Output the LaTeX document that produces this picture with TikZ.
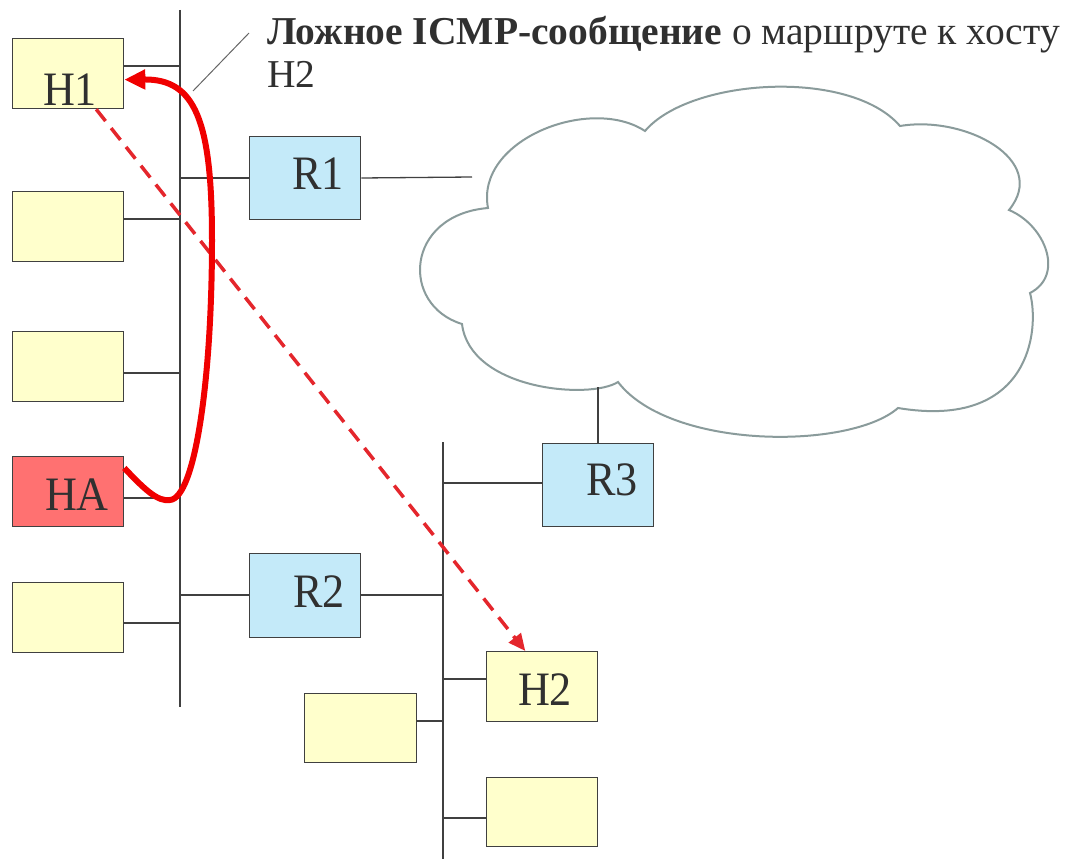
\documentclass[tikz,border=0pt]{standalone}
\usepackage{fontspec}
\usepackage{graphicx}
\setmainfont{Liberation Serif}
\usetikzlibrary{arrows.meta,calc}
\definecolor{boxyellow}{HTML}{FFFFCC}
\definecolor{routerblue}{HTML}{C4EAF9}
\definecolor{attackred}{HTML}{FF7171}
\definecolor{edge}{HTML}{404040}
\definecolor{txt}{HTML}{303030}
\definecolor{cloudline}{HTML}{8A9B9B}
\definecolor{arrowred}{HTML}{F00000}
\definecolor{dashred}{HTML}{E4262C}
\begin{document}
\begin{tikzpicture}[x=1pt,y=-1pt,
  box/.style={draw=edge, line width=1.3pt, inner sep=0pt, anchor=north west,
              minimum width=111pt, minimum height=70pt},
  host/.style={box, fill=boxyellow},
  router/.style={box, fill=routerblue, minimum height=83pt},
  attacker/.style={box, fill=attackred},
  wire/.style={draw=edge, line width=1.3pt},
  lbl/.style={anchor=base, text=txt, inner sep=0pt, font=\fontsize{48}{48}\selectfont},
  ttl/.style={anchor=base west, text=txt, inner sep=0pt, font=\fontsize{39.5}{43}\selectfont},
  attack/.style={draw=arrowred, line width=6pt, -{Triangle[length=21pt,width=19pt]}},
  fake/.style={draw=dashred, line width=3.5pt, dash pattern=on 15pt off 9pt,
               -{Triangle[length=17pt,width=15pt]}},
  pointer/.style={draw=edge!80, line width=1pt},
  cloudstyle/.style={draw=cloudline, line width=2pt, fill=white}
]
\useasboundingbox (0,0) rectangle (1069,859);

% buses
\coordinate (busAtop) at (180,10);
\coordinate (busAbot) at (180,707);
\coordinate (busBtop) at (443,442);
\coordinate (busBbot) at (443,859);
\draw[wire] (busAtop) -- (busAbot);
\draw[wire] (busBtop) -- (busBbot);

% cloud
\path[cloudstyle] (488,208)
  .. controls (475,140) and (590,95) .. (645,131)
  .. controls (690,78) and (850,68) .. (900,126)
  .. controls (965,115) and (1050,160) .. (1009,210)
  .. controls (1045,225) and (1065,275) .. (1030,293)
  .. controls (1040,330) and (1030,430) .. (898,408)
  .. controls (850,450) and (670,450) .. (618,382)
  .. controls (590,400) and (470,390) .. (462,324)
  .. controls (400,305) and (405,215) .. (488,208) -- cycle;
\coordinate (cloudW) at (472,177);
\coordinate (cloudS) at (598,387);

% boxes
\node[host] (H1) at (12,38) {};
\node[host] (L2) at (12,191) {};
\node[host] (L3) at (12,331) {};
\node[attacker] (HA) at (12,456) {};
\node[host] (L5) at (12,582) {};
\node[router] (R1) at (249,136) {};
\node[router, minimum height=84pt] (R2) at (249,553) {};
\node[router] (R3) at (542,443) {};
\node[host] (H2) at (486,651) {};
\node[host, minimum width=112pt, minimum height=69pt] (B1) at (304,693) {};
\node[host, minimum height=69pt] (B2) at (486,777) {};

% labels
\node[lbl] (tH1) at (70,106) {\scalebox{0.92}[1]{H1}};
\node[lbl] (tR1) at (318,189) {\scalebox{0.92}[1]{R1}};
\node[lbl] (tHA) at (77,510) {\scalebox{0.92}[1]{HA}};
\node[lbl] (tR2) at (319,607) {\scalebox{0.92}[1]{R2}};
\node[lbl] (tR3) at (612,495) {\scalebox{0.92}[1]{R3}};
\node[lbl] (tH2) at (545,705) {\scalebox{0.92}[1]{H2}};

% connectors to bus A
\draw[wire] (H1.east |- 0,66) -- (busAtop |- 0,66);
\draw[wire] (L2.east |- 0,219) -- (busAtop |- 0,219);
\draw[wire] (L3.east |- 0,373) -- (busAtop |- 0,373);
\draw[wire] (HA.east |- 0,498) -- (busAtop |- 0,498);
\draw[wire] (L5.east |- 0,623) -- (busAtop |- 0,623);
\draw[wire] (busAtop |- 0,178) -- (R1.west |- 0,178);
\draw[wire] (busAtop |- 0,595) -- (R2.west |- 0,595);
% R1 to cloud
\draw[wire] (R1.east |- 0,178) -- (cloudW);
% bus B
\draw[wire] (R2.east |- 0,595) -- (busBtop |- 0,595);
\draw[wire] (busBtop |- 0,483) -- (R3.west |- 0,483);
\draw[wire] (busBtop |- 0,679) -- (H2.west |- 0,679);
\draw[wire] (B1.east |- 0,721) -- (busBtop |- 0,721);
\draw[wire] (busBtop |- 0,818) -- (B2.west |- 0,818);
% R3 to cloud
\draw[wire] (R3.north -| cloudS) -- (cloudS);

% title
\node[ttl] (title) at (267,45) {\textbf{Ложное ICMP-сообщение} о маршруте к хосту};
\node[ttl] (title2) at (267,88) {H2};
\coordinate (ptrA) at (193,91);
\coordinate (ptrB) at (249,33);
\draw[pointer] (ptrA) -- (ptrB);

% fake route (dashed)
\draw[fake] ($(H1.south west)!0.75!(H1.south east)$) -- ($(H2.north west)!0.35!(H2.north east)$);

% attack ICMP redirect
\draw[attack] ([yshift=-12pt]HA.north east)
  .. controls (145,490) and (158,502) .. (170,500)
  .. controls (195,498) and (212,380) .. (212,240)
  .. controls (212,120) and (195,79) .. ([yshift=-6pt]H1.east);
\end{tikzpicture}
\end{document}
